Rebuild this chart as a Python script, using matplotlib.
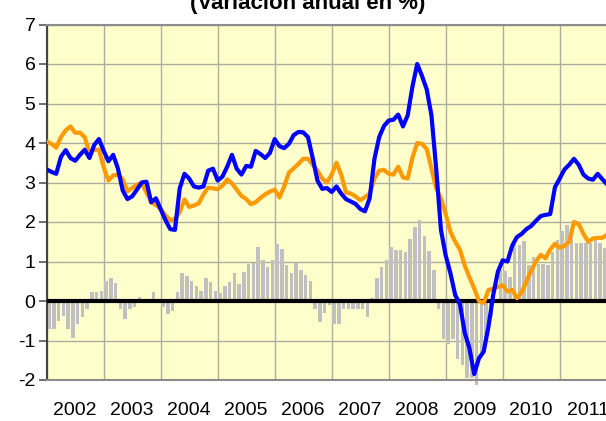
import matplotlib
matplotlib.use("Agg")
import matplotlib.pyplot as plt
import numpy as np

plt.rcParams['font.family'] = ['Liberation Sans', 'DejaVu Sans']

title = "(Variación anual en %)"
years = [2002, 2003, 2004, 2005, 2006, 2007, 2008, 2009, 2010, 2011]
year_labels = [str(y) for y in years]
y_ticks = [-2, -1, 0, 1, 2, 3, 4, 5, 6, 7]

# monthly series starting January 2002
blue = [3.33, 3.27, 3.22, 3.65, 3.82, 3.62, 3.55, 3.70, 3.83, 3.62, 3.95, 4.10,
        3.80, 3.54, 3.70, 3.35, 2.80, 2.58, 2.65, 2.82, 3.00, 3.02, 2.50, 2.60,
        2.32, 2.05, 1.82, 1.80, 2.85, 3.22, 3.10, 2.90, 2.87, 2.90, 3.30, 3.35,
        3.05, 3.15, 3.40, 3.70, 3.35, 3.20, 3.42, 3.40, 3.80, 3.72, 3.62, 3.75,
        4.10, 3.92, 3.87, 3.98, 4.20, 4.28, 4.27, 4.15, 3.62, 3.05, 2.84, 2.86,
        2.76, 2.90, 2.72, 2.58, 2.52, 2.46, 2.33, 2.27, 2.60, 3.60, 4.15, 4.43,
        4.57, 4.59, 4.72, 4.42, 4.70, 5.43, 6.00, 5.70, 5.36, 4.70, 3.35, 1.80,
        1.15, 0.70, 0.15, -0.08, -0.80, -1.20, -1.85, -1.45, -1.28, -0.65, 0.15, 0.75,
        1.03, 1.00, 1.40, 1.62, 1.70, 1.82, 1.90, 2.03, 2.15, 2.18, 2.20, 2.88,
        3.10, 3.33, 3.45, 3.60, 3.45, 3.20, 3.10, 3.07, 3.22, 3.08, 2.95]

orange = [4.04, 3.98, 3.88, 4.15, 4.32, 4.42, 4.26, 4.26, 4.15, 3.75, 3.83, 3.83,
          3.38, 3.05, 3.18, 3.20, 3.08, 2.78, 2.86, 2.95, 2.98, 2.75, 2.50, 2.43,
          2.33, 2.17, 2.05, 2.07, 2.25, 2.57, 2.38, 2.42, 2.47, 2.70, 2.87, 2.85,
          2.83, 2.92, 3.08, 2.98, 2.82, 2.66, 2.58, 2.45, 2.50, 2.61, 2.70, 2.77,
          2.82, 2.62, 2.90, 3.25, 3.36, 3.47, 3.60, 3.60, 3.45, 3.30, 3.10, 3.00,
          3.20, 3.50, 3.20, 2.75, 2.72, 2.65, 2.55, 2.63, 2.72, 3.10, 3.30, 3.32,
          3.22, 3.20, 3.40, 3.13, 3.10, 3.63, 4.00, 3.98, 3.85, 3.35, 2.85, 2.60,
          2.20, 1.75, 1.50, 1.30, 0.90, 0.60, 0.32, 0.00, -0.05, 0.28, 0.31, 0.36,
          0.40, 0.24, 0.28, 0.07, 0.22, 0.50, 0.77, 1.00, 1.17, 1.08, 1.30, 1.45,
          1.35, 1.40, 1.50, 2.00, 1.95, 1.70, 1.50, 1.58, 1.60, 1.60, 1.68]

bars = [-0.72, -0.72, -0.50, -0.38, -0.72, -0.93, -0.59, -0.41, -0.20, 0.24, 0.23, 0.25,
        0.50, 0.58, 0.46, -0.19, -0.45, -0.19, -0.14, 0.10, 0.00, 0.00, 0.24, 0.00,
        -0.15, -0.34, -0.25, 0.24, 0.72, 0.63, 0.51, 0.38, 0.25, 0.59, 0.47, 0.25,
        0.19, 0.38, 0.47, 0.72, 0.44, 0.74, 0.93, 0.97, 1.37, 1.05, 0.85, 1.03,
        1.44, 1.32, 0.91, 0.72, 0.97, 0.78, 0.65, 0.51, -0.19, -0.52, -0.31, -0.10,
        -0.59, -0.59, -0.19, -0.19, -0.19, -0.19, -0.19, -0.40, 0.08, 0.58, 0.85, 1.05,
        1.36, 1.30, 1.30, 1.25, 1.57, 1.88, 2.05, 1.64, 1.26, 0.78, -0.20, -0.96,
        -1.10, -0.96, -1.46, -1.62, -1.96, -1.96, -2.12, -1.30, -0.95, -0.40, 0.00, 0.79,
        0.75, 0.62, 1.44, 1.42, 1.52, 0.91, 1.12, 0.93, 0.93, 0.91, 1.25, 1.55,
        1.78, 1.93, 1.82, 1.46, 1.46, 1.46, 1.46, 1.55, 1.46, 1.33, 1.33]

W, H = 606, 421
fig = plt.figure(figsize=(W / 100, H / 100), dpi=100)
fig.patch.set_facecolor('white')

left_px, top_px, bottom_px = 46.7, 24.5, 380.0
px_per_year = 57.0
x0, x1 = 2002, 2012
ax = fig.add_axes([left_px / W, (H - bottom_px) / H,
                   px_per_year * (x1 - x0) / W, (bottom_px - top_px) / H])
ax.set_facecolor('#FFFFCC')

t_line = years[0] + np.arange(len(blue)) / 12.0
t_bar = years[0] + (np.arange(len(bars)) + 0.5) / 12.0

ax.bar(t_bar, bars, width=0.72 / 12, color='#C0C0C0', zorder=2, linewidth=0,
       clip_on=False)
ax.axhline(0, color='black', lw=3.0, zorder=3)
ax.plot(t_line, orange, color='#FF9900', lw=3.0, zorder=4,
        solid_joinstyle='round', solid_capstyle='round')
ax.plot(t_line, blue, color='#0000FF', lw=3.0, zorder=5,
        solid_joinstyle='round', solid_capstyle='round')

ax.set_xlim(x0, x1)
ax.set_ylim(-2, 7)
ax.set_yticks(y_ticks)
ax.set_yticklabels([str(v) for v in y_ticks])
ax.set_xticks(years + [2012])
ax.set_xticklabels([])
ax.set_xticks([y + 0.5 for y in years], minor=True)
ax.set_xticklabels(year_labels, minor=True)
ax.tick_params(axis='x', which='both', length=0, pad=16, labelsize=14)
ax.tick_params(axis='y', length=6, width=1.2, color='#555555', labelsize=14, pad=2)
ax.grid(True, which='major', color='#ACACA0', lw=1.0, zorder=1)
ax.set_axisbelow(True)

for s in ['top', 'bottom']:
    ax.spines[s].set_color('#8C8C8C')
    ax.spines[s].set_linewidth(1.5)
ax.spines['left'].set_color('#444444')
ax.spines['left'].set_linewidth(1.5)
ax.spines['right'].set_visible(False)

fig.text(0.508, 1 - 8.5 / H, title, ha='center', va='baseline',
         fontsize=16, fontweight='bold')

fig.savefig('out.png', dpi=100)
